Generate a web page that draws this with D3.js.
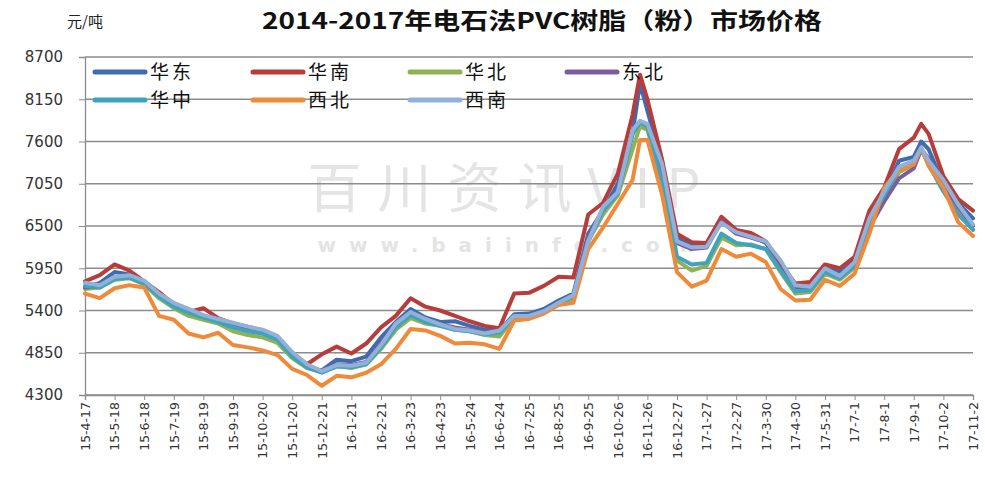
<!DOCTYPE html>
<html><head><meta charset="utf-8">
<script src="https://cdn.jsdelivr.net/npm/d3@7/dist/d3.min.js"></script>
<style>body{margin:0;background:#fff}svg{display:block}</style>
</head><body><svg id="c" width="985" height="492"></svg>
<script>
const title = "2014-2017年电石法PVC树脂（粉）市场价格";
const unit = "元/吨";
const xLabels = ["15-4-17","15-5-18","15-6-18","15-7-19","15-8-19","15-9-19","15-10-20","15-11-20","15-12-21","16-1-21","16-2-21","16-3-23","16-4-23","16-5-24","16-6-24","16-7-25","16-8-25","16-9-25","16-10-26","16-11-26","16-12-27","17-1-27","17-2-27","17-3-30","17-4-30","17-5-31","17-7-1","17-8-1","17-9-1","17-10-2","17-11-2"];
const yTicks = [4300,4850,5400,5950,6500,7050,7600,8150,8700];
// observation times, in units of label intervals
const t = [0,0.5,1,1.5,2,2.5,3,3.5,4,4.5,5,5.5,6,6.5,7,7.5,8,8.5,9,9.5,10,10.5,11,11.5,12,12.5,13,13.5,14,14.5,15,15.5,16,16.5,17,17.5,18,18.5,18.75,19,19.5,20,20.5,21,21.5,22,22.5,23,23.5,24,24.5,25,25.5,26,26.5,27,27.5,28,28.25,28.5,29,29.5,30];
const seriesNames = ["华东","华南","华北","东北","华中","西北","西南"];
const huadong = [5700,5760,5900,5870,5760,5600,5450,5350,5300,5260,5200,5160,5110,5000,4800,4660,4620,4760,4740,4800,5050,5250,5420,5310,5250,5260,5200,5150,5140,5350,5360,5420,5530,5620,6400,6700,7050,7700,8360,8000,7300,6350,6270,6270,6580,6420,6380,6280,6000,5700,5720,5960,5900,6050,6620,6900,7350,7400,7600,7500,7050,6800,6600];
const huanan = [5780,5860,6000,5920,5780,5640,5480,5380,5430,5300,5230,5190,5140,5040,4850,4700,4830,4930,4840,4970,5180,5330,5560,5450,5400,5330,5260,5200,5170,5620,5630,5720,5840,5830,6650,6800,7180,7950,8470,8150,7360,6400,6290,6280,6620,6450,6410,6300,6010,5750,5770,6000,5950,6100,6700,7000,7500,7650,7830,7700,7150,6850,6700];
const huabei = [5680,5700,5800,5820,5740,5560,5430,5330,5280,5230,5130,5080,5050,4980,4780,4650,4600,4680,4650,4700,4900,5150,5300,5230,5200,5150,5130,5080,5060,5300,5310,5380,5480,5560,6300,6650,6900,7500,7800,7750,7100,6050,5920,5980,6350,6250,6260,6200,5900,5620,5640,5880,5800,5960,6500,6900,7200,7300,7480,7350,7000,6700,6450];
const dongbei = [5700,5720,5830,5850,5770,5600,5460,5380,5320,5270,5210,5160,5120,5040,4820,4680,4610,4700,4690,4730,4980,5200,5360,5280,5220,5180,5150,5110,5130,5330,5330,5390,5500,5590,6350,6720,6930,7720,7860,7800,7250,6280,6200,6220,6560,6400,6350,6290,6030,5720,5700,5940,5840,6010,6480,6820,7120,7250,7500,7380,7050,6750,6500];
const huazhong = [5720,5700,5810,5830,5750,5580,5450,5370,5310,5250,5180,5130,5100,5020,4800,4660,4590,4670,4660,4700,4920,5180,5340,5250,5200,5150,5130,5090,5110,5320,5320,5380,5490,5580,6300,6700,6920,7700,7850,7800,7050,6100,6000,6020,6400,6280,6250,6200,5920,5650,5660,5900,5820,5980,6550,6900,7250,7350,7500,7300,6950,6650,6450];
const xibei = [5620,5560,5690,5730,5700,5330,5280,5100,5050,5110,4950,4920,4880,4820,4640,4560,4420,4550,4530,4590,4700,4900,5160,5140,5070,4970,4980,4960,4900,5270,5290,5360,5470,5500,6200,6480,6790,7100,7620,7620,6900,5900,5710,5790,6200,6100,6140,6030,5680,5530,5540,5800,5720,5880,6400,7000,7230,7300,7520,7280,7000,6550,6370];
const xinan = [5760,5730,5840,5860,5790,5620,5500,5420,5340,5290,5240,5190,5150,5070,4860,4700,4610,4690,4680,4720,4950,5230,5380,5290,5220,5160,5140,5100,5140,5330,5330,5390,5500,5600,6300,6750,6940,7750,7870,7830,7300,6300,6220,6230,6540,6420,6360,6300,6050,5730,5710,5950,5850,6030,6600,6950,7270,7350,7520,7350,7100,6780,6520];
const seriesValues = [huadong,huanan,huabei,dongbei,huazhong,xibei,xinan];
const colors = ["#3d6cb0","#b83c3a","#8fb255","#7a5e9e","#3fa3bd","#ee8a3a","#93b1d8"];

const svg = d3.select("#c");
const L = 85, R = 973, T = 57, B = 395;
const x = d3.scaleLinear().domain([0, xLabels.length-1]).range([L, R]);
const y = d3.scaleLinear().domain([4300, 8700]).range([B, T]);

// title & unit
svg.append("text").attr("x", 262).attr("y", 29).attr("font-family","Noto Sans CJK SC").attr("font-weight","bold")
  .attr("font-size",23).attr("fill","#111").attr("textLength",560).attr("lengthAdjust","spacingAndGlyphs").text(title);
svg.append("text").attr("x", 67).attr("y", 27).attr("font-family","Noto Sans CJK SC").attr("font-size",15).attr("fill","#222").text(unit);

// watermark
svg.append("text").attr("x", 512).attr("y", 208).attr("text-anchor","middle").attr("font-family","Noto Sans CJK SC")
  .attr("font-size",54).attr("fill","#e4e4e4").attr("letter-spacing",16).text("百川资讯VIP");
svg.append("text").attr("x", 512).attr("y", 252).attr("text-anchor","middle").attr("font-family","DejaVu Sans")
  .attr("font-weight","bold").attr("font-size",20).attr("fill","#e4e4e4").attr("letter-spacing",13).text("www.baiinfo.com");

// gridlines
svg.append("g").selectAll("line").data(yTicks).join("line")
  .attr("x1", L).attr("x2", R).attr("y1", d=>y(d)).attr("y2", d=>y(d))
  .attr("stroke","#8c8c8c").attr("stroke-width",1.3);

// y axis
const yAxis = svg.append("g").attr("transform",`translate(${L},0)`)
  .call(d3.axisLeft(y).tickValues(yTicks).tickSize(6).tickPadding(16).tickFormat(d3.format("d")));
yAxis.select(".domain").attr("stroke","#8c8c8c").attr("stroke-width",1.3);
yAxis.selectAll(".tick line").attr("stroke","#8c8c8c");
yAxis.selectAll("text").attr("font-family","DejaVu Sans").attr("font-size",15).attr("fill","#333");

// x axis
const xAxis = svg.append("g").attr("transform",`translate(0,${B})`)
  .call(d3.axisBottom(x).tickValues(d3.range(xLabels.length)).tickSize(5).tickFormat(i=>xLabels[i]));
xAxis.select(".domain").attr("stroke","#8c8c8c").attr("stroke-width",1.3);
xAxis.selectAll(".tick line").attr("stroke","#8c8c8c");
xAxis.selectAll("text").attr("font-family","DejaVu Sans").attr("font-size",12.5).attr("fill","#333")
  .attr("transform","rotate(-90)").attr("text-anchor","end").attr("dx","-7").attr("dy","0.35em").attr("y",0).attr("x",0);

// lines
const line = d3.line().x((d,i)=>x(t[i])).y(d=>y(d));
svg.append("g").selectAll("path").data(seriesValues).join("path")
  .attr("d", d=>line(d)).attr("fill","none").attr("stroke",(d,i)=>colors[i])
  .attr("stroke-width",4).attr("stroke-linejoin","round").attr("stroke-linecap","round");

// legend
const legPos = [[95,72],[253,72],[410,72],[567,72],[95,100],[253,100],[410,100]];
const legOrder = [0,1,2,3,4,5,6];
const lg = svg.append("g");
legOrder.forEach((si,k)=>{
  const [lx,ly] = legPos[k];
  lg.append("line").attr("x1",lx).attr("x2",lx+50).attr("y1",ly).attr("y2",ly)
    .attr("stroke",colors[si]).attr("stroke-width",5).attr("stroke-linecap","round");
  lg.append("text").attr("x",lx+55).attr("y",ly+7).attr("font-family","Noto Sans CJK SC").attr("font-size",19)
    .attr("fill","#111").attr("letter-spacing",3).text(seriesNames[si]);
});
</script>
</body></html>
